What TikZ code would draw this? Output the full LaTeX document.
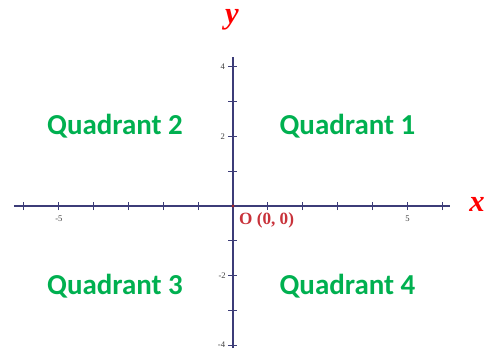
\documentclass[tikz,border=0pt]{standalone}
\usepackage{fontspec}
\setmainfont{Liberation Serif}
\newfontfamily\quadfont{Carlito}
\usepackage{tikz}
\usetikzlibrary{positioning, arrows.meta}
\definecolor{axisblue}{HTML}{3C3C78}
\definecolor{quadgreen}{HTML}{00B050}
\definecolor{origred}{HTML}{C8323A}
\tikzset{
    axis/.style = {draw=axisblue, line width=1.1pt},
    tick/.style = {draw=axisblue, line width=0.7pt},
    ticklabel/.style = {font=\fontsize{7}{8}\selectfont, text=black!75, inner sep=0pt},
    quadrant/.style = {font=\quadfont\bfseries\fontsize{23.6}{26}\selectfont, text=quadgreen, anchor=base},
    axislabel/.style = {font=\bfseries\itshape\fontsize{25}{27}\selectfont, text=red, anchor=base}
}

\begin{document}
\begin{tikzpicture}[scale=1]
			\useasboundingbox (-6.676,-4.069) rectangle (7.421,5.903);
			% axes
			\coordinate (xl) at (-6.275,0);
			\coordinate (xr) at (6.218,0);
			\coordinate (yb) at (0,-4.069);
			\coordinate (yt) at (0,4.27);
			\coordinate (o) at (0,0);
			\draw [axis] (xl) -- (xr);
			\draw [axis] (yb) -- (yt);
			\foreach \i in {-6,...,-1,1,2,...,6}
				\draw [tick] (\i,-0.115) -- (\i,0.115);
			\foreach \j in {-4,...,-1,1,2,3,4}
				\draw [tick] (-0.13,\j) -- (0.12,\j);
			\fill [origred!80!black] (o) circle (0.045);
			% tick labels
			\node (m5) [ticklabel] at (-4.99,-0.37) {-5};
			\node (p5) [ticklabel] at (5.0,-0.37) {5};
			\node (p4) [ticklabel] at (-0.29,4.0) {4};
			\node (p2) [ticklabel] at (-0.29,2.0) {2};
			\node (m2) [ticklabel] at (-0.31,-2.0) {-2};
			\node (m4) [ticklabel] at (-0.33,-3.96) {-4};
			\node (orig) [anchor=west, text=origred, inner sep=0pt,
				font=\bfseries\fontsize{14}{16}\selectfont] at (0.17,-0.40) {O (0, 0)};
			% axis names
			\node (xname) [axislabel] at (6.99,-0.17) {x};
			\node (yname) [axislabel] at (-0.03,5.24) {y};
			% quadrants
			\node (q1) [quadrant] at (3.28,2.063) {Quadrant 1};
			\node (q2) [quadrant] at (-3.38,2.063) {Quadrant 2};
			\node (q3) [quadrant] at (-3.38,-2.53) {Quadrant 3};
			\node (q4) [quadrant] at (3.28,-2.53) {Quadrant 4};
		\end{tikzpicture}
\end{document}
